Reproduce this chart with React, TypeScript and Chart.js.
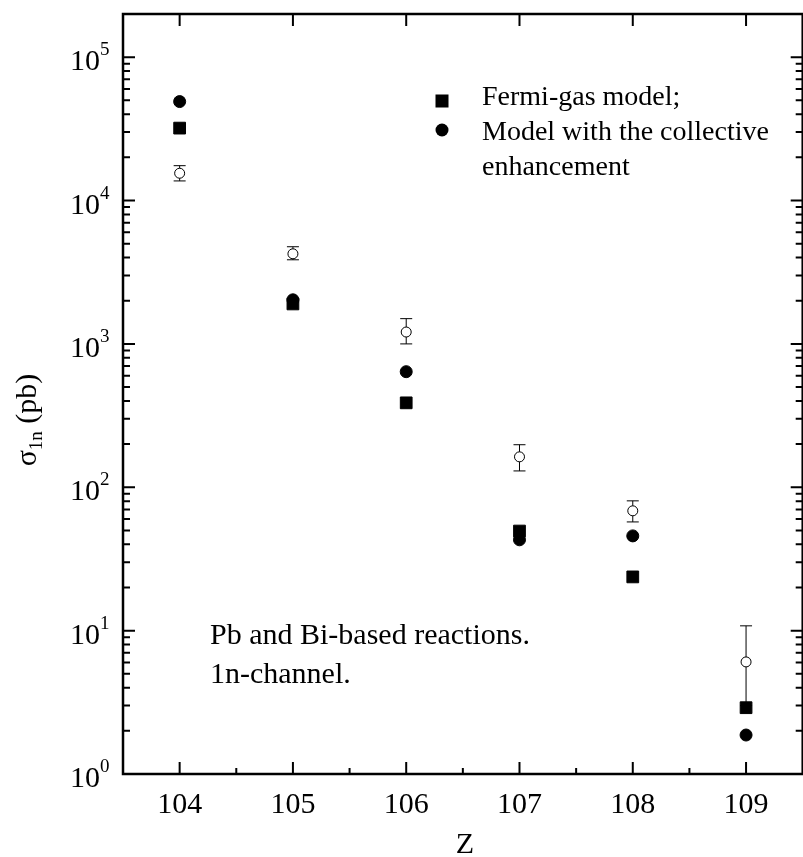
import React, { useEffect, useRef } from 'react';
import { Chart, registerables } from 'chart.js';
Chart.register(...registerables);

const zValues = [104, 105, 106, 107, 108, 109];
const fermiGas = [3.2e4, 1.9e3, 388, 49.5, 23.7, 2.9];
const collective = [4.9e4, 2.03e3, 640, 43, 45.8, 1.87];
const experiment = [1.55e4, 4.25e3, 1.21e3, 163, 68.5, 6.05];
const expUpper = [1.75e4, 4.76e3, 1.5e3, 198, 80.4, 10.8];
const expLower = [1.37e4, 3.86e3, 1.0e3, 130, 57.3, 3.0];

const xMin = 103.5;
const xMax = 109.5;
const yMin = 1;
const yMax = 2.0e5;
const xTickValues = [104, 105, 106, 107, 108, 109];
const xMinorValues = [104.5, 105.5, 106.5, 107.5, 108.5];
const yDecades = [0, 1, 2, 3, 4, 5];
const legendLabels = ['Fermi-gas model;', 'Model with the collective', 'enhancement'];
const noteLines = ['Pb and Bi-based reactions.', '1n-channel.'];
const xTitle = 'Z';

const FONT = '"Liberation Serif", "Times New Roman", serif';

const axesPlugin = {
  id: 'customAxes',
  beforeDatasetsDraw(chart: any) {
    const ctx = chart.ctx;
    const xs = chart.scales.x;
    const ys = chart.scales.y;
    ctx.save();
    ctx.strokeStyle = '#000';
    ctx.lineWidth = 1;
    zValues.forEach((z, i) => {
      const px = xs.getPixelForValue(z);
      const top = ys.getPixelForValue(expUpper[i]);
      const bot = ys.getPixelForValue(expLower[i]);
      ctx.beginPath();
      ctx.moveTo(px, top);
      ctx.lineTo(px, bot);
      ctx.moveTo(px - 6, top);
      ctx.lineTo(px + 6, top);
      ctx.moveTo(px - 6, bot);
      ctx.lineTo(px + 6, bot);
      ctx.stroke();
    });
    ctx.restore();
  },
  afterDatasetsDraw(chart: any) {
    const ctx = chart.ctx;
    const { left, right, top, bottom } = chart.chartArea;
    const xs = chart.scales.x;
    const ys = chart.scales.y;
    ctx.save();
    ctx.strokeStyle = '#000';
    ctx.lineWidth = 2.5;
    ctx.beginPath();
    ctx.rect(left, top, right - left, bottom - top);
    ctx.stroke();

    ctx.lineWidth = 2;
    ctx.beginPath();
    // x major ticks bottom and top
    xTickValues.forEach((v) => {
      const px = xs.getPixelForValue(v);
      ctx.moveTo(px, bottom);
      ctx.lineTo(px, bottom - 12);
      ctx.moveTo(px, top);
      ctx.lineTo(px, top + 12);
    });
    xMinorValues.forEach((v) => {
      const px = xs.getPixelForValue(v);
      ctx.moveTo(px, bottom);
      ctx.lineTo(px, bottom - 6);
    });
    // y ticks left and right
    yDecades.forEach((e) => {
      const py = ys.getPixelForValue(Math.pow(10, e));
      ctx.moveTo(left, py);
      ctx.lineTo(left + 12, py);
      ctx.moveTo(right, py);
      ctx.lineTo(right - 12, py);
      for (let m = 2; m <= 9; m++) {
        const val = m * Math.pow(10, e);
        if (val >= yMax) continue;
        const pm = ys.getPixelForValue(val);
        ctx.moveTo(left, pm);
        ctx.lineTo(left + 7, pm);
        ctx.moveTo(right, pm);
        ctx.lineTo(right - 7, pm);
      }
    });
    ctx.stroke();
    ctx.restore();
  },
  afterDraw(chart: any) {
    const ctx = chart.ctx;
    const { left, right, bottom } = chart.chartArea;
    const xs = chart.scales.x;
    const ys = chart.scales.y;
    ctx.save();
    ctx.fillStyle = '#000';
    ctx.textBaseline = 'alphabetic';

    // y tick labels 10^e
    yDecades.forEach((e) => {
      const py = ys.getPixelForValue(Math.pow(10, e));
      ctx.font = `30px ${FONT}`;
      ctx.textAlign = 'right';
      ctx.fillText('10', left - 23, py + 13);
      ctx.font = `19px ${FONT}`;
      ctx.textAlign = 'left';
      ctx.fillText(String(e), left - 23, py - 2);
    });

    // x tick labels
    ctx.font = `30px ${FONT}`;
    ctx.textAlign = 'center';
    xTickValues.forEach((v) => {
      ctx.fillText(String(v), xs.getPixelForValue(v), bottom + 39);
    });

    // x title
    ctx.fillText(xTitle, (left + Math.min(right, 803)) / 2 + 2, bottom + 79);

    // y title (rotated) sigma_1n (pb)
    ctx.save();
    ctx.translate(36, 420);
    ctx.rotate(-Math.PI / 2);
    ctx.textAlign = 'left';
    ctx.font = `30px ${FONT}`;
    const wSig = ctx.measureText('σ').width;
    ctx.font = `19px ${FONT}`;
    const wSub = ctx.measureText('1n').width;
    ctx.font = `30px ${FONT}`;
    const wRest = ctx.measureText(' (pb)').width;
    const total = wSig + wSub + wRest;
    let cx = -total / 2;
    ctx.fillText('σ', cx, 0);
    cx += wSig;
    ctx.font = `19px ${FONT}`;
    ctx.fillText('1n', cx, 6);
    cx += wSub;
    ctx.font = `30px ${FONT}`;
    ctx.fillText(' (pb)', cx, 0);
    ctx.restore();

    // legend
    ctx.fillStyle = '#000';
    ctx.fillRect(442 - 6.5, 101 - 6.5, 13, 13);
    ctx.beginPath();
    ctx.arc(442, 130, 6.5, 0, Math.PI * 2);
    ctx.fill();
    ctx.font = `28px ${FONT}`;
    ctx.textAlign = 'left';
    ctx.fillText(legendLabels[0], 482, 105);
    ctx.fillText(legendLabels[1], 482, 140);
    ctx.fillText(legendLabels[2], 482, 175);

    // note
    ctx.font = `30px ${FONT}`;
    ctx.fillText(noteLines[0], 210, 644);
    ctx.fillText(noteLines[1], 210, 683);
    ctx.restore();
  },
};

export default function App() {
  const canvasRef = useRef<HTMLCanvasElement | null>(null);
  useEffect(() => {
    const canvas = canvasRef.current;
    if (!canvas) return;
    const toPts = (arr: number[]) => zValues.map((z, i) => ({ x: z, y: arr[i] }));
    const chart = new Chart(canvas, {
      type: 'scatter',
      data: {
        datasets: [
          {
            label: 'Model with the collective enhancement',
            data: toPts(collective),
            pointStyle: 'circle',
            pointRadius: 6,
            pointBorderWidth: 1,
            backgroundColor: '#000',
            borderColor: '#000',
          },
          {
            label: 'Fermi-gas model',
            data: toPts(fermiGas),
            pointStyle: 'rect',
            pointRadius: 8.3,
            pointBorderWidth: 1,
            backgroundColor: '#000',
            borderColor: '#000',
          },
          {
            label: 'Experiment',
            data: toPts(experiment),
            pointStyle: 'circle',
            pointRadius: 5,
            pointBorderWidth: 1,
            backgroundColor: '#fff',
            borderColor: '#000',
          },
        ],
      },
      options: {
        responsive: false,
        devicePixelRatio: 1,
        animation: false,
        layout: { padding: { left: 123, right: 6, top: 14, bottom: 83 } },
        scales: {
          x: { type: 'linear', min: xMin, max: xMax, display: false },
          y: { type: 'logarithmic', min: yMin, max: yMax, display: false },
        },
        plugins: {
          legend: { display: false },
          tooltip: { enabled: false },
        },
      } as any,
      plugins: [axesPlugin],
    });
    return () => chart.destroy();
  }, []);

  return (
    <div
      style={{
        position: 'fixed',
        left: 0,
        top: 0,
        width: 803,
        height: 857,
        overflow: 'hidden',
        background: '#fff',
      }}
    >
      <canvas ref={canvasRef} width={812} height={857} style={{ display: 'block', width: 812, height: 857 }} />
    </div>
  );
}
